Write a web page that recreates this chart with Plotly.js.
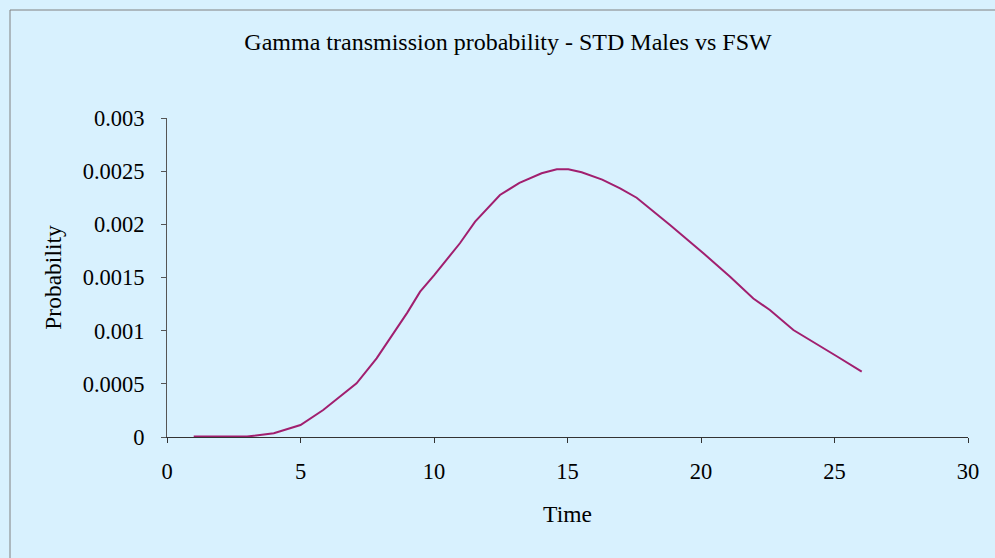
<!DOCTYPE html>
<html>
<head>
<meta charset="utf-8">
<script src="https://cdn.plot.ly/plotly-3.0.1.min.js"></script>
<style>html,body{margin:0;padding:0;background:#d8f1fe;}#chart{width:995px;height:558px;}</style>
</head>
<body>
<div id="chart"></div>
<script>
// Time values (x)
var timeValues = [1, 2, 3, 4, 5, 5.85, 6.5, 7.1, 7.85, 8.5, 9, 9.48, 10, 10.97, 11.54, 12.47, 13.2, 14.03, 14.6, 15.03, 15.53, 16.3, 16.97, 17.59, 18.46, 18.84, 20.09, 21.09, 21.96, 22.58, 23.46, 24.2, 25.1, 26.02];
// Probability values (y)
var probValues = [0.000004, 0.000002, 0.000004, 0.000035, 0.000113, 0.000254, 0.00038, 0.000505, 0.00074, 0.00098, 0.00117, 0.001367, 0.00152, 0.001822, 0.002025, 0.002276, 0.00239, 0.00248, 0.002518, 0.002518, 0.00249, 0.00242, 0.002339, 0.00225, 0.002072, 0.001994, 0.001728, 0.001508, 0.001303, 0.001194, 0.001006, 0.000897, 0.000757, 0.000614];
var xTicks = [0, 5, 10, 15, 20, 25, 30];
var yTicks = [0, 0.0005, 0.001, 0.0015, 0.002, 0.0025, 0.003];
var yTickText = ['0', '0.0005', '0.001', '0.0015', '0.002', '0.0025', '0.003'];

var serif = 'Liberation Serif, Times New Roman, serif';
var trace = {
  x: timeValues, y: probValues, type: 'scatter', mode: 'lines',
  line: {color: '#a11f6f', width: 2}, showlegend: false, hoverinfo: 'x+y'
};
var layout = {
  width: 995, height: 558,
  paper_bgcolor: '#d8f1fe', plot_bgcolor: '#d8f1fe',
  margin: {l: 167, r: 27, t: 118, b: 121},
  font: {family: serif, color: '#000', size: 22},
  title: {text: 'Gamma transmission probability - STD Males vs FSW', font: {family: serif, size: 24, color: '#000'},
          xref: 'paper', x: (508 - 167) / 801, xanchor: 'center', yref: 'container', y: 1 - 42 / 558, yanchor: 'middle'},
  xaxis: {
    range: [0, 30], tickmode: 'array', tickvals: xTicks, ticktext: xTicks.map(String),
    showgrid: false, zeroline: false, showline: true, linecolor: '#333', linewidth: 1,
    ticks: 'outside', ticklen: 5, tickcolor: '#333', ticklabelstandoff: 9,
    tickfont: {family: serif, size: 22.5, color: '#000'},
    title: {text: 'Time', font: {family: serif, size: 23.5, color: '#000'}, standoff: 22}
  },
  yaxis: {
    range: [0, 0.003], tickmode: 'array', tickvals: yTicks, ticktext: yTickText,
    showgrid: false, zeroline: false, showline: true, linecolor: '#555', linewidth: 1,
    ticks: 'outside', ticklen: 5, tickcolor: '#555', ticklabelstandoff: 12,
    tickfont: {family: serif, size: 22.5, color: '#000'},
    title: {text: 'Probability', font: {family: serif, size: 23.5, color: '#000'}, standoff: 14}
  },
  shapes: [{type: 'rect', xref: 'paper', yref: 'paper',
            x0: (10 - 167) / 801, x1: (1005 - 167) / 801,
            y0: (437 - 570) / 319, y1: (437 - 10) / 319,
            line: {color: '#808080', width: 1}, fillcolor: 'rgba(0,0,0,0)', layer: 'below'}]
};
Plotly.newPlot('chart', [trace], layout, {displayModeBar: false, staticPlot: true});
</script>
</body>
</html>
